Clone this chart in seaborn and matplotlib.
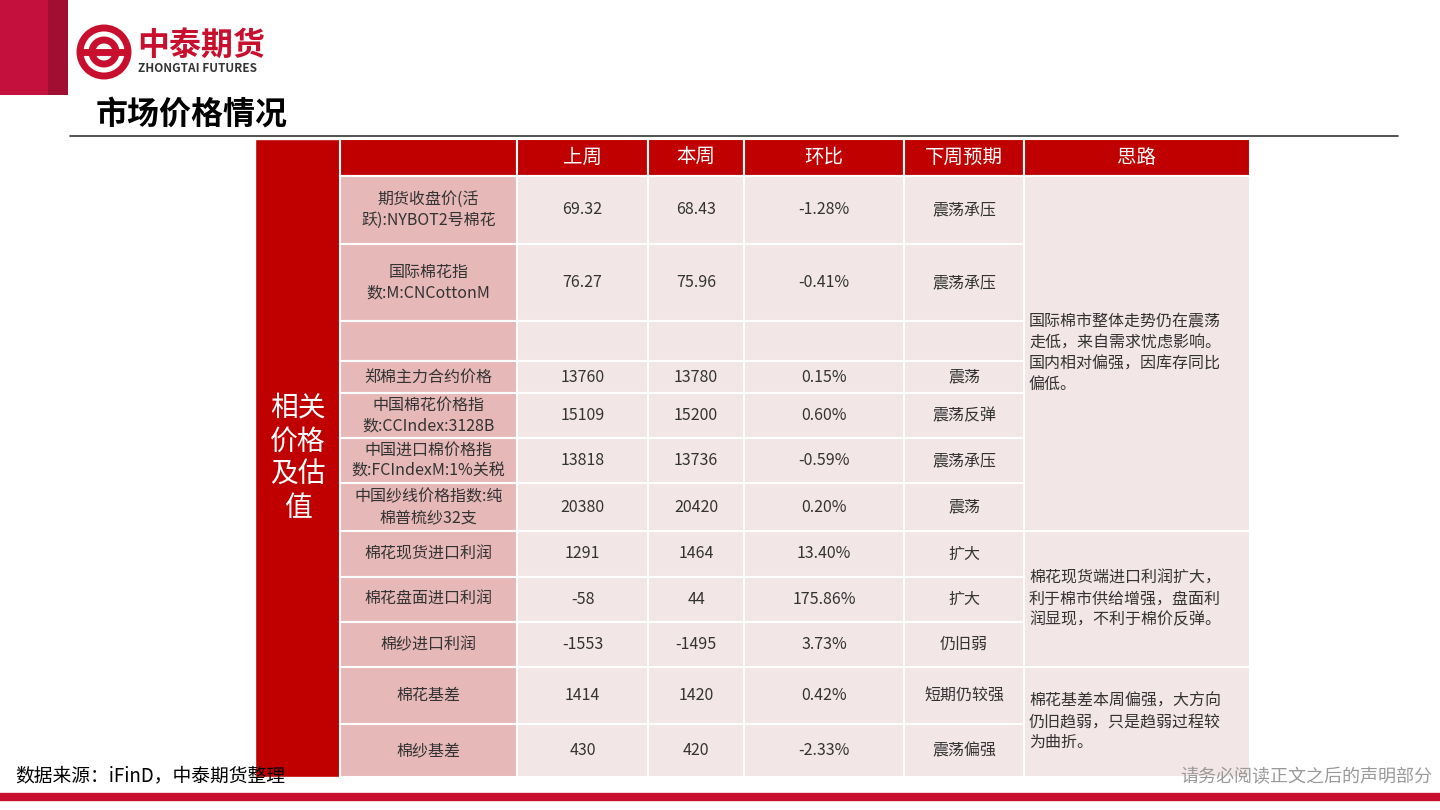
import matplotlib
matplotlib.use('Agg')
import matplotlib.pyplot as plt
import seaborn as sns
from matplotlib.patches import Rectangle, Circle

sns.set_theme(style='white')
plt.rcParams['font.family'] = ['Noto Sans CJK SC', 'DejaVu Sans']

headers = ['', '上周', '本周', '环比', '下周预期', '思路']
items = ['期货收盘价(活\n跃):NYBOT2号棉花', '国际棉花指\n数:M:CNCottonM', '', '郑棉主力合约价格',
         '中国棉花价格指\n数:CCIndex:3128B', '中国进口棉价格指\n数:FCIndexM:1%关税',
         '中国纱线价格指数:纯\n棉普梳纱32支', '棉花现货进口利润', '棉花盘面进口利润',
         '棉纱进口利润', '棉花基差', '棉纱基差']
last_week = ['69.32', '76.27', '', '13760', '15109', '13818', '20380', '1291', '-58', '-1553', '1414', '430']
this_week = ['68.43', '75.96', '', '13780', '15200', '13736', '20420', '1464', '44', '-1495', '1420', '420']
change = ['-1.28%', '-0.41%', '', '0.15%', '0.60%', '-0.59%', '0.20%', '13.40%', '175.86%', '3.73%', '0.42%', '-2.33%']
outlook = ['震荡承压', '震荡承压', '', '震荡', '震荡反弹', '震荡承压', '震荡', '扩大', '扩大', '仍旧弱', '短期仍较强', '震荡偏强']
ideas = [(0, 7, '国际棉市整体走势仍在震荡\n走低，来自需求忧虑影响。\n国内相对偏强，因库存同比\n偏低。'),
         (7, 10, '棉花现货端进口利润扩大，\n利于棉市供给增强，盘面利\n润显现，不利于棉价反弹。'),
         (10, 12, '棉花基差本周偏强，大方向\n仍旧趋弱，只是趋弱过程较\n为曲折。')]
side_label = '相关\n价格\n及估\n值'

RED = '#C00000'
PINK = '#E6B8B7'
LIGHT = '#F2E6E6'
col_x = [255, 340, 517, 648, 744, 904, 1024, 1250]
row_y = [139, 176, 244, 321, 361, 393, 438, 483, 531, 577, 622, 667, 724, 777]

fig = plt.figure(figsize=(14.4, 8.1), dpi=100)
ax = fig.add_axes([0, 0, 1, 1])
ax.set_xlim(0, 1440)
ax.set_ylim(810, 0)
ax.axis('off')

def cell(x0, y0, x1, y1, fc, txt='', color='#333333', size=11.5, ha='center'):
    ax.add_patch(Rectangle((x0, y0), x1 - x0, y1 - y0, fc=fc, ec='white', lw=1.5))
    if txt:
        tx = (x0 + x1) / 2 if ha == 'center' else x0 + 5
        ax.text(tx, (y0 + y1) / 2, txt, ha=ha, va='center', color=color, fontsize=size, linespacing=1.3)

# header
ax.add_patch(Rectangle((0, 0), 48, 95, fc='#C4103C', ec='none'))
ax.add_patch(Rectangle((48, 0), 20, 95, fc='#A00E32', ec='none'))
ax.add_patch(Circle((104, 52), 24, fc='white', ec='#C8102E', lw=5))
ax.add_patch(Circle((104, 52), 12, fc='white', ec='#C8102E', lw=5))
ax.plot([82, 126], [52, 52], color='#C8102E', lw=5)
ax.text(137, 46, '中泰期货', fontsize=23, fontweight='bold', color='#C8102E', va='center')
ax.text(138, 69, 'ZHONGTAI FUTURES', fontsize=8.5, fontweight='bold', color='#333333', va='center')
ax.text(96, 115, '市场价格情况', fontsize=23, fontweight='bold', color='black', va='center')
ax.plot([70, 1398], [136, 136], color='#333333', lw=1.2)

# table
ax.add_patch(Rectangle((col_x[0], row_y[0]), col_x[1] - col_x[0], row_y[-1] - row_y[0], fc=RED, ec='white'))
ax.text((col_x[0] + col_x[1]) / 2, (row_y[0] + row_y[-1]) / 2, side_label, ha='center', va='center',
        color='white', fontsize=20, linespacing=1.15)
for j, h in enumerate(headers):
    cell(col_x[j + 1], row_y[0], col_x[j + 2], row_y[1], RED, h, color='white', size=14)
for i in range(len(items)):
    y0, y1 = row_y[i + 1], row_y[i + 2]
    cell(col_x[1], y0, col_x[2], y1, PINK, items[i])
    for j, vals in enumerate([last_week, this_week, change, outlook]):
        cell(col_x[j + 2], y0, col_x[j + 3], y1, LIGHT, vals[i])
for a, b, t in ideas:
    cell(col_x[6], row_y[a + 1], col_x[7], row_y[b + 1], LIGHT, t, ha='left')

# footer
ax.plot([0, 1440], [797, 797], color='#C8102E', lw=6)
ax.text(15, 776, '数据来源：iFinD，中泰期货整理', fontsize=13.5, color='black', va='center')
ax.text(1432, 777, '请务必阅读正文之后的声明部分', fontsize=13, color='#999999', va='center', ha='right')

fig.savefig('out.png', dpi=100)
